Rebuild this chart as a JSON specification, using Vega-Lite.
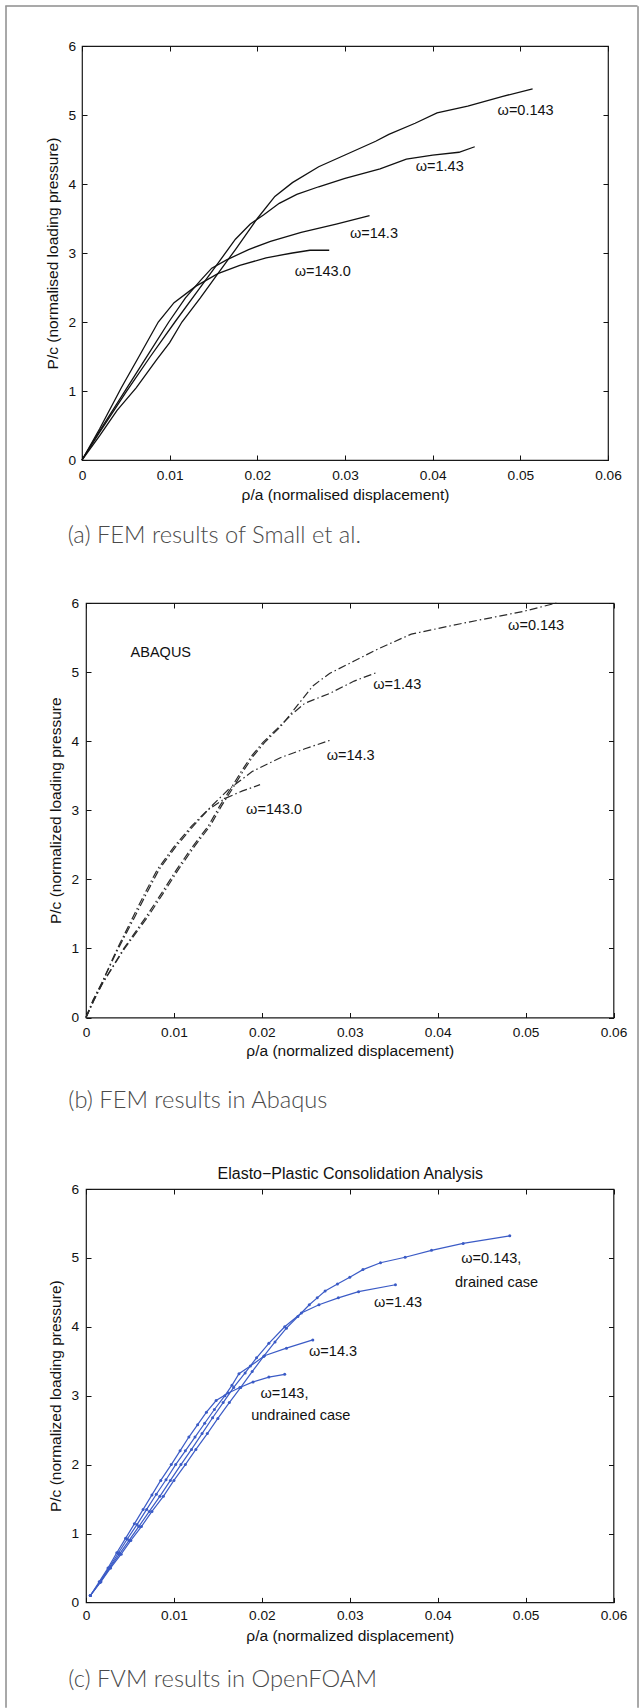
{
  "$schema": "https://vega.github.io/schema/vega-lite/v6.json",
  "padding": {"left": 5, "top": 5, "right": 0, "bottom": 0},
  "background": "white",
  "bounds": "flush",
  "spacing": 0,
  "datasets": {
    "a": [
      {"omega": "143.0", "x": 0, "y": 0}, {"omega": "143.0", "x": 0.002, "y": 0.45}, {"omega": "143.0", "x": 0.0045, "y": 1.05}, {"omega": "143.0", "x": 0.0065, "y": 1.5}, {"omega": "143.0", "x": 0.0087, "y": 2.0}, {"omega": "143.0", "x": 0.0105, "y": 2.28}, {"omega": "143.0", "x": 0.013, "y": 2.52}, {"omega": "143.0", "x": 0.0155, "y": 2.7}, {"omega": "143.0", "x": 0.018, "y": 2.82}, {"omega": "143.0", "x": 0.021, "y": 2.93}, {"omega": "143.0", "x": 0.024, "y": 3.0}, {"omega": "143.0", "x": 0.026, "y": 3.04}, {"omega": "143.0", "x": 0.0282, "y": 3.04},
      {"omega": "14.3", "x": 0, "y": 0}, {"omega": "14.3", "x": 0.002, "y": 0.42}, {"omega": "14.3", "x": 0.005, "y": 1.02}, {"omega": "14.3", "x": 0.0075, "y": 1.52}, {"omega": "14.3", "x": 0.0099, "y": 2.0}, {"omega": "14.3", "x": 0.0118, "y": 2.35}, {"omega": "14.3", "x": 0.0135, "y": 2.6}, {"omega": "14.3", "x": 0.0148, "y": 2.78}, {"omega": "14.3", "x": 0.0165, "y": 2.9}, {"omega": "14.3", "x": 0.019, "y": 3.05}, {"omega": "14.3", "x": 0.0215, "y": 3.17}, {"omega": "14.3", "x": 0.025, "y": 3.3}, {"omega": "14.3", "x": 0.029, "y": 3.42}, {"omega": "14.3", "x": 0.0328, "y": 3.54},
      {"omega": "1.43", "x": 0, "y": 0}, {"omega": "1.43", "x": 0.002, "y": 0.4}, {"omega": "1.43", "x": 0.005, "y": 0.98}, {"omega": "1.43", "x": 0.0078, "y": 1.5}, {"omega": "1.43", "x": 0.0106, "y": 2.0}, {"omega": "1.43", "x": 0.0132, "y": 2.45}, {"omega": "1.43", "x": 0.0155, "y": 2.85}, {"omega": "1.43", "x": 0.0175, "y": 3.2}, {"omega": "1.43", "x": 0.0192, "y": 3.42}, {"omega": "1.43", "x": 0.0207, "y": 3.55}, {"omega": "1.43", "x": 0.0225, "y": 3.72}, {"omega": "1.43", "x": 0.0245, "y": 3.85}, {"omega": "1.43", "x": 0.027, "y": 3.96}, {"omega": "1.43", "x": 0.03, "y": 4.08}, {"omega": "1.43", "x": 0.034, "y": 4.22}, {"omega": "1.43", "x": 0.037, "y": 4.36}, {"omega": "1.43", "x": 0.04, "y": 4.42}, {"omega": "1.43", "x": 0.043, "y": 4.46}, {"omega": "1.43", "x": 0.0448, "y": 4.54},
      {"omega": "0.143", "x": 0, "y": 0}, {"omega": "0.143", "x": 0.002, "y": 0.35}, {"omega": "0.143", "x": 0.004, "y": 0.72}, {"omega": "0.143", "x": 0.0062, "y": 1.05}, {"omega": "0.143", "x": 0.0085, "y": 1.45}, {"omega": "0.143", "x": 0.01, "y": 1.7}, {"omega": "0.143", "x": 0.0114, "y": 2.0}, {"omega": "0.143", "x": 0.0135, "y": 2.35}, {"omega": "0.143", "x": 0.0155, "y": 2.7}, {"omega": "0.143", "x": 0.0175, "y": 3.05}, {"omega": "0.143", "x": 0.02, "y": 3.5}, {"omega": "0.143", "x": 0.022, "y": 3.82}, {"omega": "0.143", "x": 0.024, "y": 4.02}, {"omega": "0.143", "x": 0.027, "y": 4.25}, {"omega": "0.143", "x": 0.03, "y": 4.42}, {"omega": "0.143", "x": 0.0335, "y": 4.62}, {"omega": "0.143", "x": 0.035, "y": 4.72}, {"omega": "0.143", "x": 0.038, "y": 4.88}, {"omega": "0.143", "x": 0.0405, "y": 5.03}, {"omega": "0.143", "x": 0.044, "y": 5.13}, {"omega": "0.143", "x": 0.048, "y": 5.27}, {"omega": "0.143", "x": 0.0514, "y": 5.38}
    ],
    "b": [
      {"omega": "143.0", "x": 0, "y": 0}, {"omega": "143.0", "x": 0.0008, "y": 0.25}, {"omega": "143.0", "x": 0.0018, "y": 0.5}, {"omega": "143.0", "x": 0.0035, "y": 0.98}, {"omega": "143.0", "x": 0.0054, "y": 1.47}, {"omega": "143.0", "x": 0.0067, "y": 1.8}, {"omega": "143.0", "x": 0.0081, "y": 2.14}, {"omega": "143.0", "x": 0.01, "y": 2.47}, {"omega": "143.0", "x": 0.012, "y": 2.77}, {"omega": "143.0", "x": 0.0138, "y": 3.0}, {"omega": "143.0", "x": 0.0158, "y": 3.17}, {"omega": "143.0", "x": 0.0178, "y": 3.28}, {"omega": "143.0", "x": 0.0198, "y": 3.37},
      {"omega": "14.3", "x": 0, "y": 0}, {"omega": "14.3", "x": 0.0008, "y": 0.25}, {"omega": "14.3", "x": 0.0018, "y": 0.5}, {"omega": "14.3", "x": 0.0036, "y": 0.98}, {"omega": "14.3", "x": 0.0056, "y": 1.47}, {"omega": "14.3", "x": 0.0069, "y": 1.8}, {"omega": "14.3", "x": 0.0083, "y": 2.14}, {"omega": "14.3", "x": 0.0102, "y": 2.47}, {"omega": "14.3", "x": 0.0122, "y": 2.77}, {"omega": "14.3", "x": 0.0142, "y": 3.05}, {"omega": "14.3", "x": 0.0162, "y": 3.3}, {"omega": "14.3", "x": 0.0189, "y": 3.56}, {"omega": "14.3", "x": 0.0221, "y": 3.76}, {"omega": "14.3", "x": 0.0249, "y": 3.89}, {"omega": "14.3", "x": 0.0277, "y": 4.01},
      {"omega": "1.43", "x": 0, "y": 0}, {"omega": "1.43", "x": 0.0009, "y": 0.25}, {"omega": "1.43", "x": 0.0019, "y": 0.5}, {"omega": "1.43", "x": 0.0043, "y": 1.0}, {"omega": "1.43", "x": 0.0069, "y": 1.47}, {"omega": "1.43", "x": 0.0086, "y": 1.8}, {"omega": "1.43", "x": 0.0103, "y": 2.14}, {"omega": "1.43", "x": 0.0121, "y": 2.47}, {"omega": "1.43", "x": 0.0139, "y": 2.77}, {"omega": "1.43", "x": 0.0152, "y": 3.06}, {"omega": "1.43", "x": 0.0164, "y": 3.3}, {"omega": "1.43", "x": 0.0176, "y": 3.55}, {"omega": "1.43", "x": 0.0188, "y": 3.78}, {"omega": "1.43", "x": 0.0201, "y": 3.98}, {"omega": "1.43", "x": 0.0219, "y": 4.2}, {"omega": "1.43", "x": 0.0235, "y": 4.4}, {"omega": "1.43", "x": 0.0249, "y": 4.55}, {"omega": "1.43", "x": 0.0277, "y": 4.69}, {"omega": "1.43", "x": 0.0305, "y": 4.87}, {"omega": "1.43", "x": 0.0332, "y": 5.0},
      {"omega": "0.143", "x": 0, "y": 0}, {"omega": "0.143", "x": 0.0009, "y": 0.25}, {"omega": "0.143", "x": 0.0019, "y": 0.5}, {"omega": "0.143", "x": 0.0044, "y": 1.0}, {"omega": "0.143", "x": 0.0071, "y": 1.47}, {"omega": "0.143", "x": 0.0088, "y": 1.8}, {"omega": "0.143", "x": 0.0105, "y": 2.14}, {"omega": "0.143", "x": 0.0123, "y": 2.47}, {"omega": "0.143", "x": 0.0141, "y": 2.77}, {"omega": "0.143", "x": 0.0154, "y": 3.06}, {"omega": "0.143", "x": 0.0166, "y": 3.3}, {"omega": "0.143", "x": 0.0178, "y": 3.55}, {"omega": "0.143", "x": 0.019, "y": 3.78}, {"omega": "0.143", "x": 0.0203, "y": 3.98}, {"omega": "0.143", "x": 0.0222, "y": 4.22}, {"omega": "0.143", "x": 0.024, "y": 4.51}, {"omega": "0.143", "x": 0.0258, "y": 4.8}, {"omega": "0.143", "x": 0.0277, "y": 4.98}, {"omega": "0.143", "x": 0.0305, "y": 5.16}, {"omega": "0.143", "x": 0.0333, "y": 5.34}, {"omega": "0.143", "x": 0.037, "y": 5.55}, {"omega": "0.143", "x": 0.0426, "y": 5.7}, {"omega": "0.143", "x": 0.0498, "y": 5.88}, {"omega": "0.143", "x": 0.0535, "y": 6.0}
    ],
    "c": [
      {"omega": "143", "x": 0.0005, "y": 0.1}, {"omega": "143", "x": 0.0015, "y": 0.3}, {"omega": "143", "x": 0.0025, "y": 0.5}, {"omega": "143", "x": 0.0035, "y": 0.72}, {"omega": "143", "x": 0.0045, "y": 0.93}, {"omega": "143", "x": 0.0055, "y": 1.14}, {"omega": "143", "x": 0.0065, "y": 1.35}, {"omega": "143", "x": 0.0075, "y": 1.56}, {"omega": "143", "x": 0.0085, "y": 1.77}, {"omega": "143", "x": 0.0097, "y": 2.0}, {"omega": "143", "x": 0.0107, "y": 2.2}, {"omega": "143", "x": 0.0117, "y": 2.4}, {"omega": "143", "x": 0.0127, "y": 2.58}, {"omega": "143", "x": 0.0137, "y": 2.76}, {"omega": "143", "x": 0.0148, "y": 2.93}, {"omega": "143", "x": 0.0162, "y": 3.04}, {"omega": "143", "x": 0.0175, "y": 3.12}, {"omega": "143", "x": 0.019, "y": 3.2}, {"omega": "143", "x": 0.0208, "y": 3.27}, {"omega": "143", "x": 0.0226, "y": 3.31},
      {"omega": "14.3", "x": 0.0005, "y": 0.1}, {"omega": "14.3", "x": 0.0016, "y": 0.3}, {"omega": "14.3", "x": 0.0026, "y": 0.5}, {"omega": "14.3", "x": 0.0037, "y": 0.72}, {"omega": "14.3", "x": 0.0047, "y": 0.92}, {"omega": "14.3", "x": 0.0058, "y": 1.13}, {"omega": "14.3", "x": 0.0069, "y": 1.35}, {"omega": "14.3", "x": 0.008, "y": 1.57}, {"omega": "14.3", "x": 0.0091, "y": 1.78}, {"omega": "14.3", "x": 0.0102, "y": 2.0}, {"omega": "14.3", "x": 0.0113, "y": 2.2}, {"omega": "14.3", "x": 0.0124, "y": 2.4}, {"omega": "14.3", "x": 0.0135, "y": 2.6}, {"omega": "14.3", "x": 0.0146, "y": 2.8}, {"omega": "14.3", "x": 0.0158, "y": 3.0}, {"omega": "14.3", "x": 0.0166, "y": 3.15}, {"omega": "14.3", "x": 0.0174, "y": 3.32}, {"omega": "14.3", "x": 0.0187, "y": 3.43}, {"omega": "14.3", "x": 0.0203, "y": 3.58}, {"omega": "14.3", "x": 0.0228, "y": 3.69}, {"omega": "14.3", "x": 0.0258, "y": 3.81},
      {"omega": "1.43", "x": 0.0005, "y": 0.1}, {"omega": "1.43", "x": 0.0016, "y": 0.29}, {"omega": "1.43", "x": 0.0027, "y": 0.5}, {"omega": "1.43", "x": 0.0038, "y": 0.7}, {"omega": "1.43", "x": 0.0049, "y": 0.9}, {"omega": "1.43", "x": 0.006, "y": 1.1}, {"omega": "1.43", "x": 0.0072, "y": 1.32}, {"omega": "1.43", "x": 0.0084, "y": 1.54}, {"omega": "1.43", "x": 0.0096, "y": 1.77}, {"omega": "1.43", "x": 0.0108, "y": 2.0}, {"omega": "1.43", "x": 0.012, "y": 2.22}, {"omega": "1.43", "x": 0.0132, "y": 2.45}, {"omega": "1.43", "x": 0.0144, "y": 2.68}, {"omega": "1.43", "x": 0.0156, "y": 2.9}, {"omega": "1.43", "x": 0.0168, "y": 3.12}, {"omega": "1.43", "x": 0.0181, "y": 3.33}, {"omega": "1.43", "x": 0.0194, "y": 3.55}, {"omega": "1.43", "x": 0.0208, "y": 3.76}, {"omega": "1.43", "x": 0.0226, "y": 4.0}, {"omega": "1.43", "x": 0.0245, "y": 4.2}, {"omega": "1.43", "x": 0.0265, "y": 4.32}, {"omega": "1.43", "x": 0.0287, "y": 4.42}, {"omega": "1.43", "x": 0.031, "y": 4.51}, {"omega": "1.43", "x": 0.0352, "y": 4.61},
      {"omega": "0.143", "x": 0.0005, "y": 0.1}, {"omega": "0.143", "x": 0.0017, "y": 0.3}, {"omega": "0.143", "x": 0.0028, "y": 0.5}, {"omega": "0.143", "x": 0.004, "y": 0.7}, {"omega": "0.143", "x": 0.0051, "y": 0.9}, {"omega": "0.143", "x": 0.0063, "y": 1.1}, {"omega": "0.143", "x": 0.0075, "y": 1.32}, {"omega": "0.143", "x": 0.0088, "y": 1.54}, {"omega": "0.143", "x": 0.01, "y": 1.77}, {"omega": "0.143", "x": 0.0113, "y": 2.0}, {"omega": "0.143", "x": 0.0125, "y": 2.22}, {"omega": "0.143", "x": 0.0138, "y": 2.45}, {"omega": "0.143", "x": 0.015, "y": 2.67}, {"omega": "0.143", "x": 0.0163, "y": 2.9}, {"omega": "0.143", "x": 0.0176, "y": 3.12}, {"omega": "0.143", "x": 0.0189, "y": 3.35}, {"omega": "0.143", "x": 0.0202, "y": 3.57}, {"omega": "0.143", "x": 0.0215, "y": 3.78}, {"omega": "0.143", "x": 0.0228, "y": 3.98}, {"omega": "0.143", "x": 0.0241, "y": 4.15}, {"omega": "0.143", "x": 0.0254, "y": 4.32}, {"omega": "0.143", "x": 0.0263, "y": 4.42}, {"omega": "0.143", "x": 0.0272, "y": 4.52}, {"omega": "0.143", "x": 0.0286, "y": 4.62}, {"omega": "0.143", "x": 0.03, "y": 4.72}, {"omega": "0.143", "x": 0.0315, "y": 4.83}, {"omega": "0.143", "x": 0.0335, "y": 4.93}, {"omega": "0.143", "x": 0.0363, "y": 5.01}, {"omega": "0.143", "x": 0.0393, "y": 5.11}, {"omega": "0.143", "x": 0.0429, "y": 5.21}, {"omega": "0.143", "x": 0.0482, "y": 5.32}
    ],
    "la": [
      {"x": 0.0506, "y": 5.06, "label": "ω=0.143"},
      {"x": 0.0408, "y": 4.25, "label": "ω=1.43"},
      {"x": 0.0333, "y": 3.28, "label": "ω=14.3"},
      {"x": 0.02746, "y": 2.73, "label": "ω=143.0"}
    ],
    "lb": [
      {"x": 0.00851, "y": 5.27, "label": "ABAQUS"},
      {"x": 0.0512, "y": 5.66, "label": "ω=0.143"},
      {"x": 0.0354, "y": 4.81, "label": "ω=1.43"},
      {"x": 0.0301, "y": 3.79, "label": "ω=14.3"},
      {"x": 0.0214, "y": 3.01, "label": "ω=143.0"}
    ],
    "lc": [
      {"x": 0.0461, "y": 4.99, "label": "ω=0.143,"},
      {"x": 0.0467, "y": 4.64, "label": "drained case"},
      {"x": 0.0355, "y": 4.35, "label": "ω=1.43"},
      {"x": 0.0281, "y": 3.64, "label": "ω=14.3"},
      {"x": 0.02257, "y": 3.02, "label": "ω=143,"},
      {"x": 0.02443, "y": 2.7, "label": "undrained case"}
    ],
    "none": []
  },
  "vconcat": [
    {"width": 630.75, "height": 0.01, "data": {"name": "none"}, "mark": "rule", "encoding": {}, "view": {"stroke": "#8c8c8c", "strokeWidth": 1.5}},
    {
      "bounds": "flush",
      "spacing": 0,
      "hconcat": [
        {"width": 0.01, "height": 1700, "data": {"name": "none"}, "mark": "rule", "encoding": {}, "view": {"stroke": "#8c8c8c", "strokeWidth": 1.5}},
        {"width": 74.84, "height": 0.01, "data": {"name": "none"}, "mark": "rule", "encoding": {}, "view": {"stroke": null}},
        {
          "bounds": "flush",
          "spacing": 0,
          "vconcat": [
            {"width": 0.01, "height": 38.15, "data": {"name": "none"}, "mark": "rule", "encoding": {}, "view": {"stroke": null}},
            {
              "width": 526, "height": 414,
              "title": {"text": "(a) FEM results of Small et al.", "orient": "bottom", "anchor": "start", "frame": "group", "dx": -14.3, "offset": 21.2},
              "resolve": {"axis": {"x": "independent", "y": "independent"}},
              "layer": [
                {
                  "data": {"name": "a"},
                  "mark": {"type": "line", "color": "#111111", "strokeWidth": 1.3},
                  "encoding": {
                    "x": {"field": "x", "type": "quantitative", "scale": {"domain": [0, 0.06], "nice": false, "zero": false},
                          "axis": {"orient": "bottom", "values": [0, 0.01, 0.02, 0.03, 0.04, 0.05, 0.06], "format": ".2~f", "labelPadding": 13.3, "titlePadding": 5.2, "title": "ρ/a  (normalised displacement)"}},
                    "y": {"field": "y", "type": "quantitative", "scale": {"domain": [0, 6], "nice": false, "zero": false},
                          "axis": {"orient": "left", "values": [0, 1, 2, 3, 4, 5, 6], "format": "d", "labelPadding": 11.5, "titlePadding": 7.1, "title": "P/c  (normalised loading pressure)"}},
                    "detail": {"field": "omega", "type": "nominal"}
                  }
                },
                {
                  "data": {"name": "la"},
                  "mark": {"type": "text"},
                  "encoding": {
                    "x": {"field": "x", "type": "quantitative", "axis": {"orient": "top", "values": [0, 0.01, 0.02, 0.03, 0.04, 0.05, 0.06], "labels": false, "title": null}},
                    "y": {"field": "y", "type": "quantitative", "axis": {"orient": "right", "values": [0, 1, 2, 3, 4, 5, 6], "labels": false, "title": null}},
                    "text": {"field": "label"}
                  }
                }
              ]
            },
            {"width": 0.01, "height": 142.1, "data": {"name": "none"}, "mark": "rule", "encoding": {}, "view": {"stroke": null}},
            {
              "bounds": "flush",
              "spacing": 0,
              "hconcat": [
                {"width": 3.4, "height": 0.01, "data": {"name": "none"}, "mark": "rule", "encoding": {}, "view": {"stroke": null}},
                {
                  "width": 527.5, "height": 414.5,
                  "title": {"text": "(b) FEM results in Abaqus", "orient": "bottom", "anchor": "start", "frame": "group", "dx": -17.7, "offset": 29.6},
                  "resolve": {"axis": {"x": "independent", "y": "independent"}},
                  "layer": [
                    {
                      "data": {"name": "b"},
                      "mark": {"type": "line", "color": "#2a2a2a", "strokeWidth": 1.2, "strokeDash": [8, 3, 1.5, 3]},
                      "encoding": {
                        "x": {"field": "x", "type": "quantitative", "scale": {"domain": [0, 0.06], "nice": false, "zero": false},
                              "axis": {"orient": "bottom", "values": [0, 0.01, 0.02, 0.03, 0.04, 0.05, 0.06], "format": ".2~f", "labelPadding": 12.7, "titlePadding": 4.8, "title": "ρ/a (normalized displacement)"}},
                        "y": {"field": "y", "type": "quantitative", "scale": {"domain": [0, 6], "nice": false, "zero": false},
                              "axis": {"orient": "left", "values": [0, 1, 2, 3, 4, 5, 6], "format": "d", "labelPadding": 12.3, "titlePadding": 7.7, "title": "P/c (normalized loading pressure"}},
                        "detail": {"field": "omega", "type": "nominal"}
                      }
                    },
                    {
                      "data": {"name": "lb"},
                      "mark": {"type": "text"},
                      "encoding": {
                        "x": {"field": "x", "type": "quantitative", "axis": {"orient": "top", "values": [0, 0.01, 0.02, 0.03, 0.04, 0.05, 0.06], "labels": false, "title": null}},
                        "y": {"field": "y", "type": "quantitative", "axis": {"orient": "right", "values": [0, 1, 2, 3, 4, 5, 6], "labels": false, "title": null}},
                        "text": {"field": "label"}
                      }
                    }
                  ]
                }
              ]
            },
            {"width": 0.01, "height": 585.6, "data": {"name": "none"}, "mark": "rule", "encoding": {}, "view": {"stroke": null}},
            {
              "bounds": "flush",
              "spacing": 0,
              "hconcat": [
                {"width": 3.4, "height": 0.01, "data": {"name": "none"}, "mark": "rule", "encoding": {}, "view": {"stroke": null}},
                {
                  "width": 527.5, "height": 413.4,
                  "title": {"text": "(c) FVM results in OpenFOAM", "orient": "bottom", "anchor": "start", "frame": "group", "dx": -17.7, "offset": 24.1},
                  "resolve": {"axis": {"x": "independent", "y": "independent"}},
                  "layer": [
                    {
                      "data": {"name": "c"},
                      "mark": {"type": "line", "color": "#3b5bc6", "strokeWidth": 1.2, "point": {"filled": true, "size": 9, "color": "#3b5bc6"}},
                      "encoding": {
                        "x": {"field": "x", "type": "quantitative", "scale": {"domain": [0, 0.06], "nice": false, "zero": false},
                              "axis": {"orient": "bottom", "values": [0, 0.01, 0.02, 0.03, 0.04, 0.05, 0.06], "format": ".2~f", "labelPadding": 11.2, "titlePadding": 6.3, "title": "ρ/a (normalized displacement)"}},
                        "y": {"field": "y", "type": "quantitative", "scale": {"domain": [0, 6], "nice": false, "zero": false},
                              "axis": {"orient": "left", "values": [0, 1, 2, 3, 4, 5, 6], "format": "d", "labelPadding": 12.3, "titlePadding": 7.7, "title": "P/c (normalized loading pressure)"}},
                        "detail": {"field": "omega", "type": "nominal"}
                      }
                    },
                    {
                      "data": {"name": "lc"},
                      "mark": {"type": "text"},
                      "encoding": {
                        "x": {"field": "x", "type": "quantitative", "axis": {"orient": "top", "values": [0, 0.01, 0.02, 0.03, 0.04, 0.05, 0.06], "labels": false, "title": "Elasto−Plastic Consolidation Analysis", "titleFontSize": 16, "titlePadding": 7.1}},
                        "y": {"field": "y", "type": "quantitative", "axis": {"orient": "right", "values": [0, 1, 2, 3, 4, 5, 6], "labels": false, "title": null}},
                        "text": {"field": "label"}
                      }
                    }
                  ]
                }
              ]
            }
          ]
        },
        {"width": 555.9, "height": 0.01, "data": {"name": "none"}, "mark": "rule", "encoding": {}, "view": {"stroke": null}},
        {"width": 0.01, "height": 1700, "data": {"name": "none"}, "mark": "rule", "encoding": {}, "view": {"stroke": "#8c8c8c", "strokeWidth": 1.5}}
      ]
    }
  ],
  "config": {
    "view": {"stroke": "#1a1a1a", "strokeWidth": 1.2, "fill": "white"},
    "axis": {
      "domain": false, "grid": false,
      "tickSize": -5, "tickColor": "#111111", "tickWidth": 1,
      "labelFont": "Liberation Sans", "labelFontSize": 13.7, "labelColor": "#111111",
      "labelFlush": false, "labelOverlap": false, "labelBound": false,
      "titleFont": "Liberation Sans", "titleFontSize": 15.5, "titleFontWeight": "normal", "titleColor": "#111111",
      "minExtent": 0
    },
    "title": {"font": "Lato", "fontSize": 23.7, "fontWeight": 300, "color": "#4a4a4a"},
    "text": {"font": "Liberation Sans", "fontSize": 14.5, "color": "#111111", "align": "center", "baseline": "middle"}
  }
}
